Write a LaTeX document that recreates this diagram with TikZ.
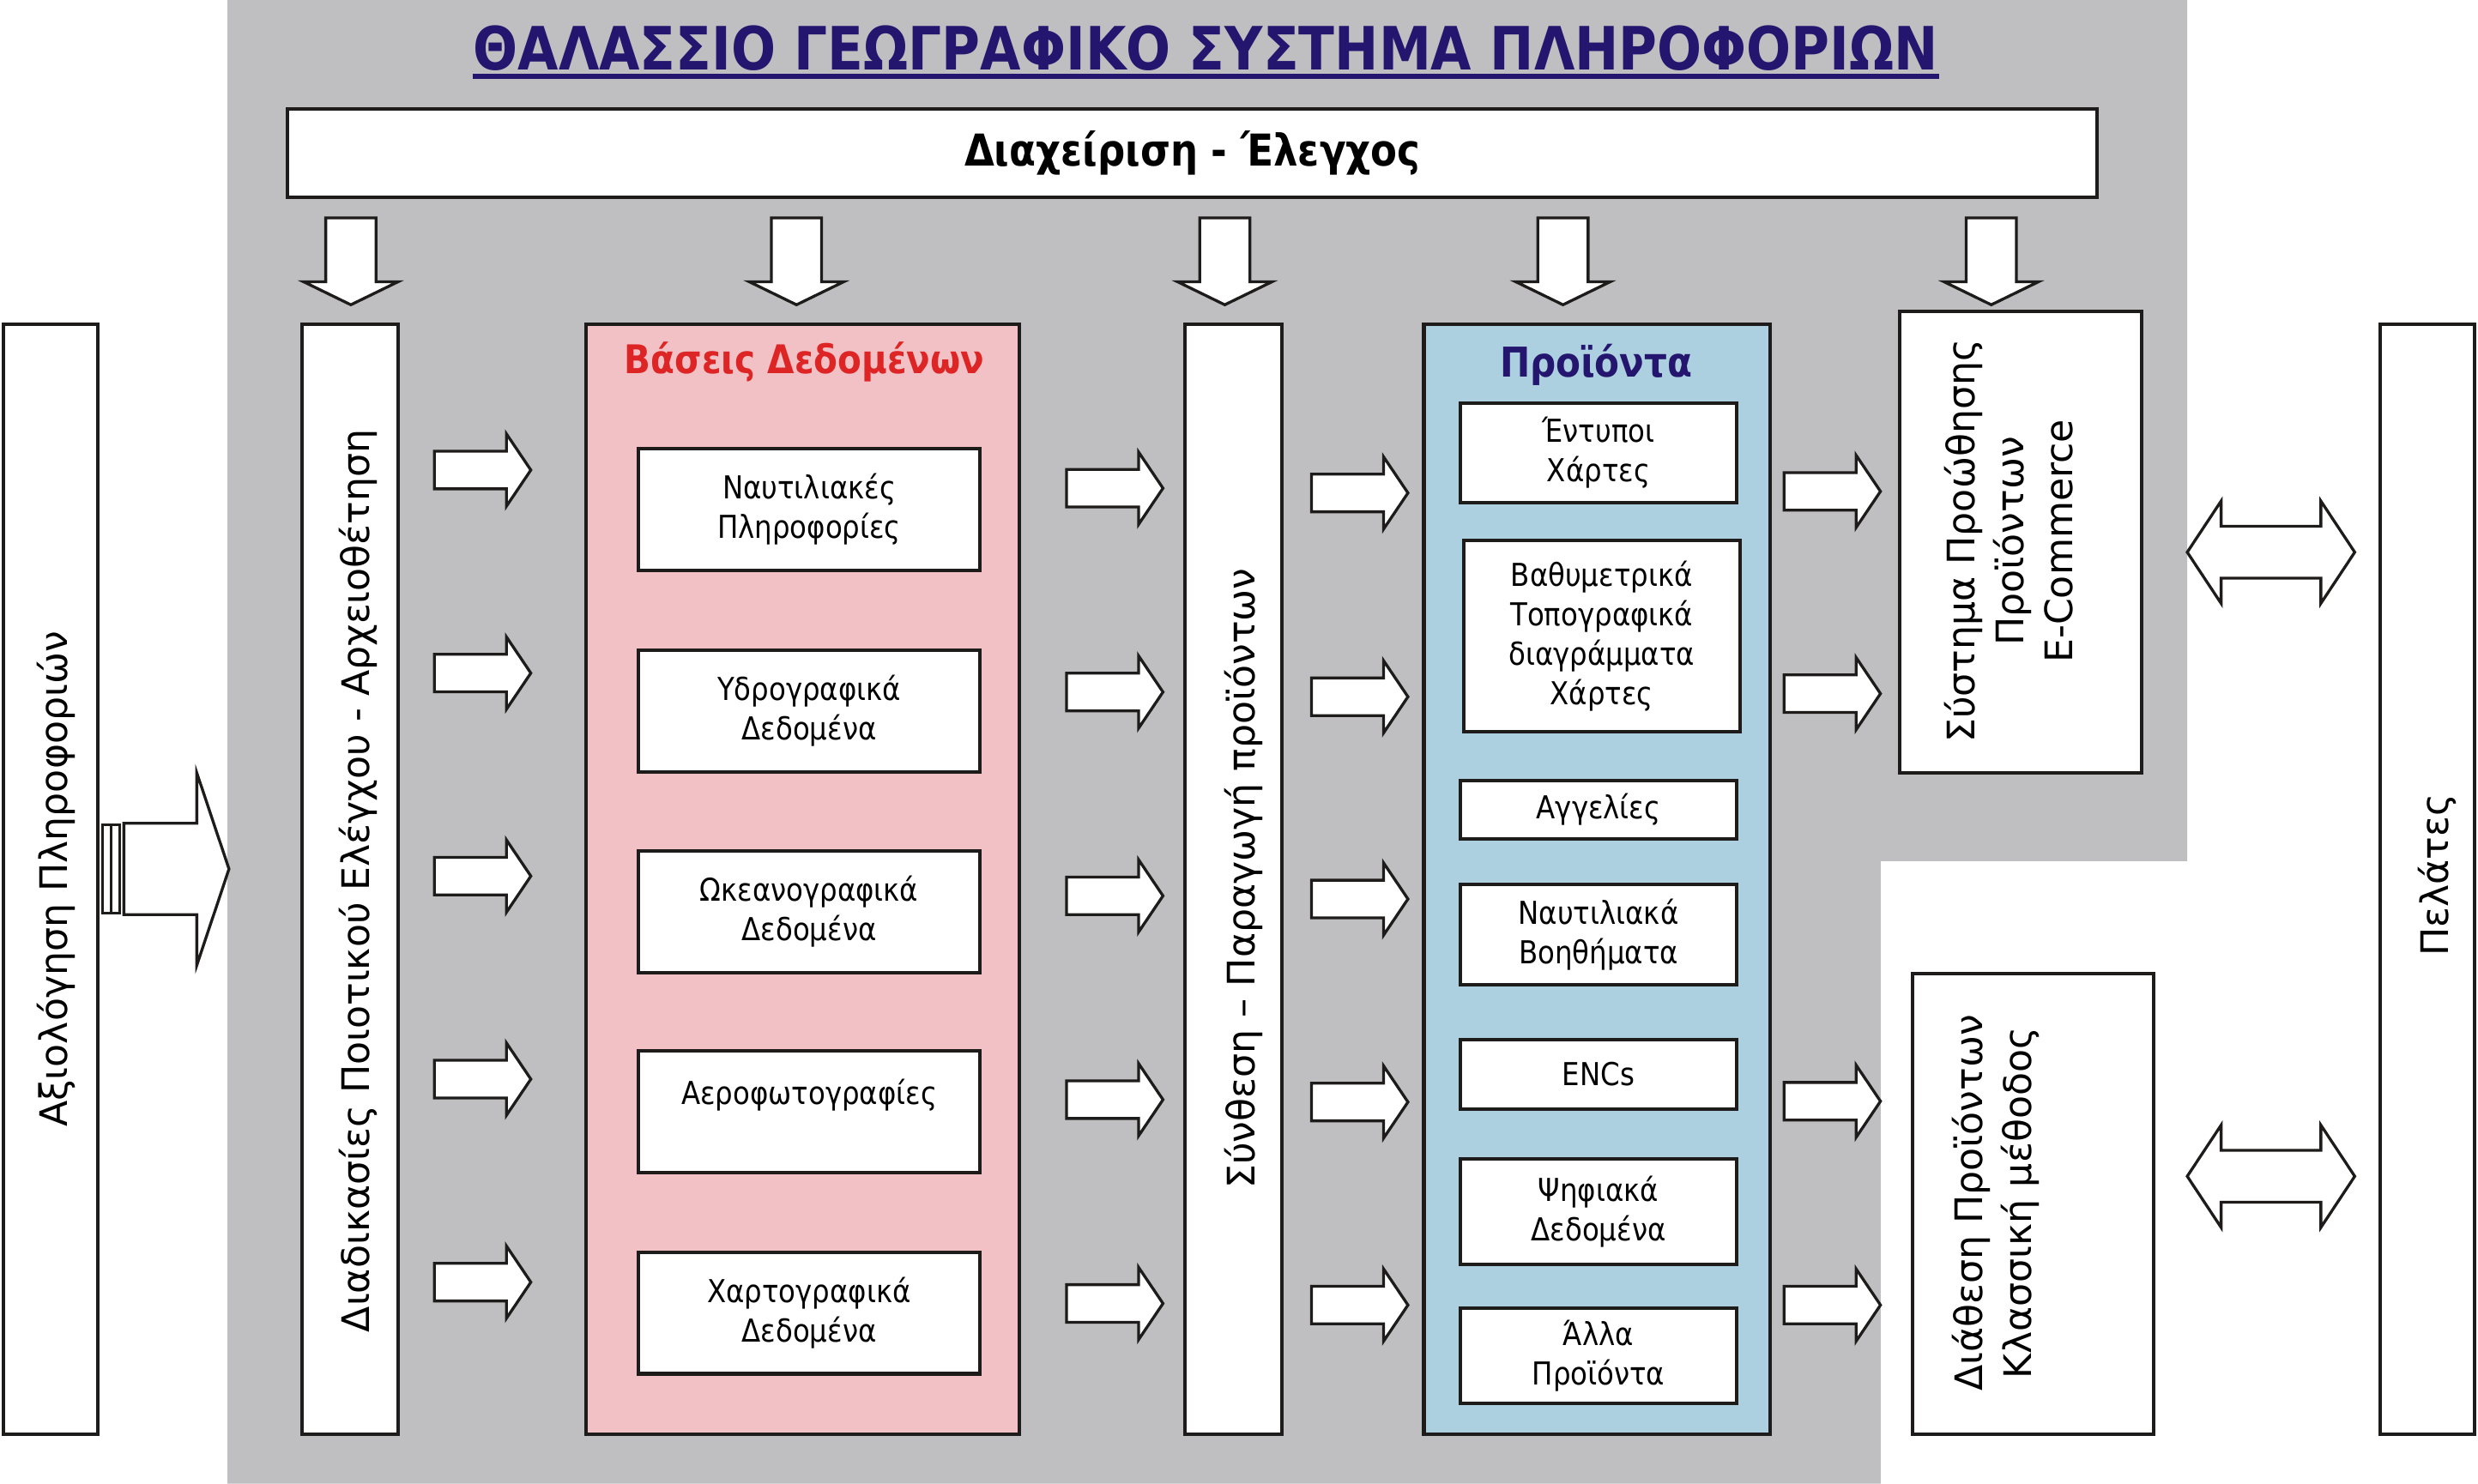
\documentclass[tikz,border=0pt]{standalone}
\usepackage{fontspec}
\setmainfont{DejaVu Sans}
\newfontfamily\narrowfont{DejaVu Sans}[FakeStretch=0.88]
\usetikzlibrary{shapes.arrows}
\definecolor{SeaGray}{RGB}{191,191,194}
\definecolor{DbPink}{RGB}{242,193,198}
\definecolor{ProdBlue}{RGB}{173,208,224}
\definecolor{TitleNavy}{RGB}{36,22,110}
\definecolor{DbRed}{RGB}{222,37,37}
\definecolor{EdgeBlack}{RGB}{30,28,26}
\begin{document}
\begin{tikzpicture}[x=.5pt,y=-.5pt,
  box/.style={draw=EdgeBlack,line width=1.1pt,fill=white,inner sep=0pt},
  vtext/.style={rotate=90,inner sep=0pt,align=center,font=\fontsize{12pt}{15.5pt}\selectfont},
  itext/.style={align=center,font=\narrowfont\fontsize{10pt}{12.5pt}\selectfont},
  htitle/.style={inner sep=0pt,font=\narrowfont\bfseries\fontsize{#1}{1.2\dimexpr#1}\selectfont},
  fat/.style={single arrow,draw=EdgeBlack,fill=white,line width=.9pt,inner xsep=0pt,anchor=tail},
  rarrow/.style={fat,inner ysep=5.5pt,minimum width=22pt,minimum height=30.5pt,single arrow head extend=5.5pt,single arrow tip angle=112},
  darrow/.style={fat,shape border rotate=270,inner xsep=7.5pt,inner ysep=0pt,minimum width=29pt,minimum height=27.5pt,single arrow head extend=7pt,single arrow tip angle=128},
  twoway/.style={double arrow,draw=EdgeBlack,fill=white,line width=.9pt,inner xsep=0pt,inner ysep=7.75pt,minimum width=31.5pt,minimum height=53pt,double arrow head extend=8pt,double arrow tip angle=113}]
\useasboundingbox (0,0) rectangle (1568,939);
\fill[SeaGray] (144,0) -- (1384,0) -- (1384,545) -- (1190,545) -- (1190,939) -- (144,939) -- cycle;
% title and management bar
\node[htitle=18.9pt,anchor=base,TitleNavy] (title) at (763,44) {ΘΑΛΑΣΣΙΟ ΓΕΩΓΡΑΦΙΚΟ ΣΥΣΤΗΜΑ ΠΛΗΡΟΦΟΡΙΩΝ};
\draw[TitleNavy,line width=1.65pt] ([yshift=-2.2pt]title.base west) -- ([yshift=-2.2pt]title.base east);
\node[box,htitle=13.9pt,minimum width=572.5pt,minimum height=28pt] (mgmt) at (754.5,97) {Διαχείριση - Έλεγχος};
% tall columns
\node[box,minimum width=30pt,minimum height=351.5pt] (eval) at (32,556.5) {};
\node[box,minimum width=30.5pt,minimum height=351.5pt] (qc) at (221.5,556.5) {};
\node[box,fill=DbPink,minimum width=137pt,minimum height=351.5pt] (db) at (508,556.5) {};
\node[box,minimum width=30.5pt,minimum height=351.5pt] (syn) at (780.5,556.5) {};
\node[box,fill=ProdBlue,minimum width=109.5pt,minimum height=351.5pt] (prod) at (1010.5,556.5) {};
\node[box,minimum width=76.5pt,minimum height=146pt] (ecom) at (1278.5,343) {};
\node[box,minimum width=76.5pt,minimum height=146pt] (dist) at (1286.5,762) {};
\node[box,minimum width=30pt,minimum height=351.5pt] (cust) at (1536,556.5) {};
\node[vtext] (evaltxt) at (35.5,556.5) {Αξιολόγηση Πληροφοριών};
\node[vtext] (qctxt) at (226.5,557.5) {Διαδικασίες Ποιοτικού Ελέγχου - Αρχειοθέτηση};
\node[vtext] (syntxt) at (787,556) {Σύνθεση – Παραγωγή προϊόντων};
\node[vtext] (custtxt) at (1542,554) {Πελάτες};
\node[vtext] (ecomtxt) at (1271,342.5) {Σύστημα Προώθησης\\Προϊόντων\\E-Commerce};
\node[vtext] (disttxt) at (1263,761.5) {Διάθεση Προϊόντων\\Κλασσική μέθοδος};
% databases
\node[htitle=12.5pt,DbRed] (dbtitle) at (509,229) {Βάσεις Δεδομένων};
\foreach \y/\name/\txt in {322.5/dbnav/{Ναυτιλιακές\\Πληροφορίες},450/dbhyd/{Υδρογραφικά\\Δεδομένα},577/dbocn/{Ωκεανογραφικά\\Δεδομένα},703.5/dbair/{Αεροφωτογραφίες\\\mbox{}},831/dbmap/{Χαρτογραφικά\\Δεδομένα}}
  \node[box,itext,minimum width=108pt,minimum height=38.5pt] (\name) at (512,\y) {\txt};
% products
\node[htitle=13pt,TitleNavy] (prodtitle) at (1010,231) {Προϊόντα};
\foreach \x/\y/\h/\name/\txt in {1011.5/286.5/31.5/prmap/{Έντυποι\\Χάρτες},1013.5/402.5/60.5/prbath/{Βαθυμετρικά\\Τοπογραφικά\\διαγράμματα\\Χάρτες},1011.5/512.5/18.5/prads/{Αγγελίες},1011.5/591.5/32/praid/{Ναυτιλιακά\\Βοηθήματα},1011.5/680/22/prenc/{ENCs},1011.5/767/33.5/prdig/{Ψηφιακά\\Δεδομένα},1011.5/858/30/proth/{Άλλα\\Προϊόντα}}
  \node[box,itext,minimum width=87.5pt,minimum height=\h pt] (\name) at (\x,\y) {\txt};
% block arrows
\draw[EdgeBlack,line width=.7pt] (65,522) rectangle (70.2,578) (70.2,522) rectangle (75.6,578);
\node[fat,inner ysep=14pt,minimum width=60pt,minimum height=33.25pt,single arrow head extend=16pt,single arrow tip angle=143] (evalin) at (77.5,550) {};
\foreach \x [count=\i] in {222,504,775,989,1260} \node[darrow] (down\i) at (\x,137) {};
\foreach \y [count=\i] in {297.5,426,554.5,683,811.5} \node[rarrow] (qcdb\i) at (274,\y) {};
\foreach \y [count=\i] in {309,438,567,696,825} \node[rarrow] (dbsyn\i) at (674,\y) {};
\foreach \y [count=\i] in {312,441,569,697.5,826} \node[rarrow] (synprod\i) at (829,\y) {};
\foreach \y [count=\i] in {311,439,697,826} \node[rarrow] (prodout\i) at (1128,\y) {};
\node[twoway] (ecomcust) at (1437,349.5) {};
\node[twoway] (distcust) at (1437,744.5) {};
\end{tikzpicture}
\end{document}
